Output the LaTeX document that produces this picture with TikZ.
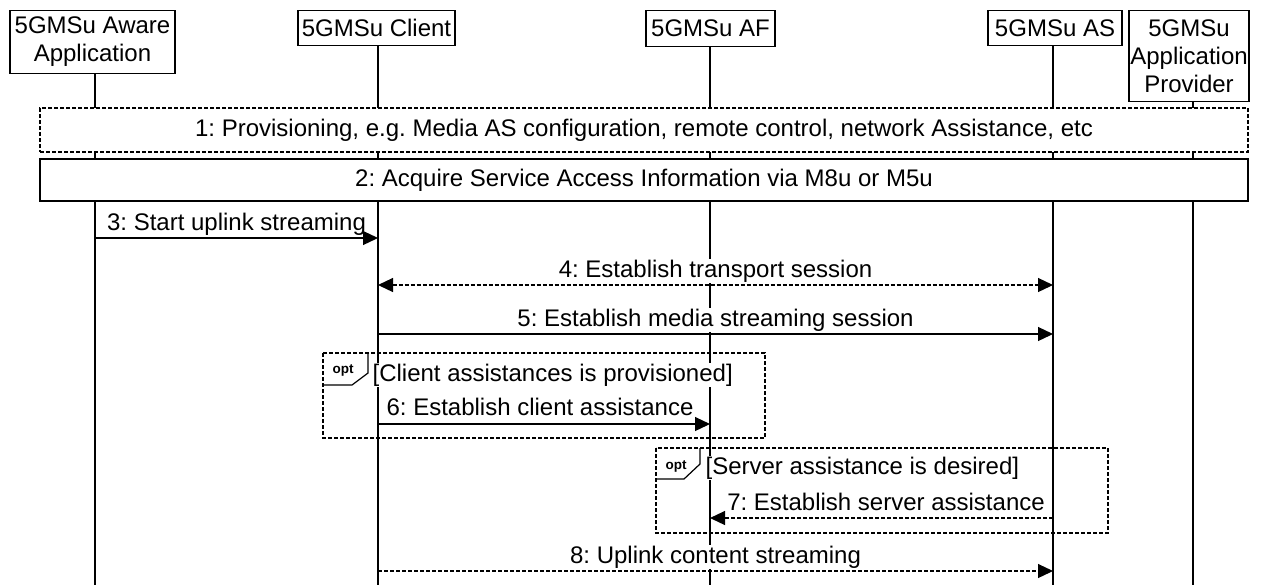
\documentclass[tikz,border=0pt]{standalone}
\usepackage{fontspec}
\setmainfont{Liberation Sans}
\usetikzlibrary{arrows.meta}
\frenchspacing
\begin{document}
\begin{tikzpicture}[x=0.5pt,y=-0.5pt,
  font=\fontsize{12}{14}\selectfont, line width=0.6pt,
  actor/.style={draw, fill=white, inner sep=0pt, align=center, anchor=north},
  dsh/.style={dash pattern=on 2pt off 1pt},
  msg/.style={-{Triangle[length=7.5pt,width=7pt]}},
  dmsg/.style={msg, dsh},
  bmsg/.style={{Triangle[length=7.5pt,width=7pt]}-{Triangle[length=7.5pt,width=7pt]}, dsh},
  lbl/.style={fill=white, inner sep=0.5pt, anchor=base},
  cond/.style={fill=white, inner sep=0.5pt, anchor=west},
  optlbl/.style={font=\fontsize{6.75}{7}\bfseries\selectfont, inner sep=0pt},
  bar/.style={draw, fill=white, inner sep=0pt, minimum width=604pt}]
\useasboundingbox (0,0) rectangle (1262,585);

% actors
\node[actor, minimum width=82.5pt, minimum height=31.5pt] (aa) at (92.5,10) {5GMSu Aware\\Application};
\node[actor, minimum width=78.5pt, minimum height=17.5pt] (cl) at (376.5,10) {5GMSu Client};
\node[actor, minimum width=64.5pt, minimum height=18pt] (af) at (710.5,10) {5GMSu AF};
\node[actor, minimum width=67pt, minimum height=17.5pt] (as) at (1055,10) {5GMSu AS};
\node[actor, minimum width=60pt, minimum height=45.5pt] (ap) at (1189,10) {5GMSu\\Application\\Provider};

% lifelines
\coordinate (aaE) at (95,585);
\coordinate (clE) at (378,585);
\coordinate (afE) at (710,585);
\coordinate (asE) at (1053,585);
\coordinate (apE) at (1193,585);
\draw (aa.south -| aaE) -- (aaE);
\draw (cl.south -| clE) -- (clE);
\draw (af.south -| afE) -- (afE);
\draw (as.south -| asE) -- (asE);
\draw (ap.south -| apE) -- (apE);

% bars
\node[bar, dsh, minimum height=22pt] (b1) at (644,130) {1: Provisioning, e.g. Media AS configuration, remote control, network Assistance, etc};
\node[bar, minimum height=21pt] (b2) at (644,180) {2: Acquire Service Access Information via M8u or M5u};

% opt frames
\draw[dsh] (323,353) rectangle (765,438);
\draw (368,353) -- (368,373) -- (352,385) -- (323,385);
\node[optlbl] (o1) at (343,370) {opt};
\node[cond] (c1) at (371,375) {[Client assistances is provisioned]};

\draw[dsh] (656,448) rectangle (1108,533);
\draw (700,448) -- (700,464) -- (684,479) -- (656,479);
\node[optlbl] (o2) at (676,466) {opt};
\node[cond] (c2) at (704,468) {[Server assistance is desired]};

% message end points
\coordinate (m3a) at (95,238);   \coordinate (m3b) at (378,238);
\coordinate (m4a) at (378,285);  \coordinate (m4b) at (1053,285);
\coordinate (m5a) at (378,334);  \coordinate (m5b) at (1053,334);
\coordinate (m6a) at (378,424);  \coordinate (m6b) at (710,424);
\coordinate (m7a) at (1053,518); \coordinate (m7b) at (710,518);
\coordinate (m8a) at (378,571);  \coordinate (m8b) at (1053,571);

% labels
\node[lbl] (l3) at (236.5,230) {3: Start uplink streaming};
\node[lbl] (l4) at (715.5,277) {4: Establish transport session};
\node[lbl] (l5) at (715.5,326) {5: Establish media streaming session};
\node[lbl] (l6) at (540,415) {6: Establish client assistance};
\node[lbl] (l7) at (886,510) {7: Establish server assistance};
\node[lbl] (l8) at (715.5,563) {8: Uplink content streaming};

% messages
\draw[msg] (m3a) -- (m3b);
\draw[bmsg] (m4a) -- (m4b);
\draw[msg] (m5a) -- (m5b);
\draw[msg] (m6a) -- (m6b);
\draw[dmsg] (m7a) -- (m7b);
\draw[dmsg] (m8a) -- (m8b);
\end{tikzpicture}
\end{document}
